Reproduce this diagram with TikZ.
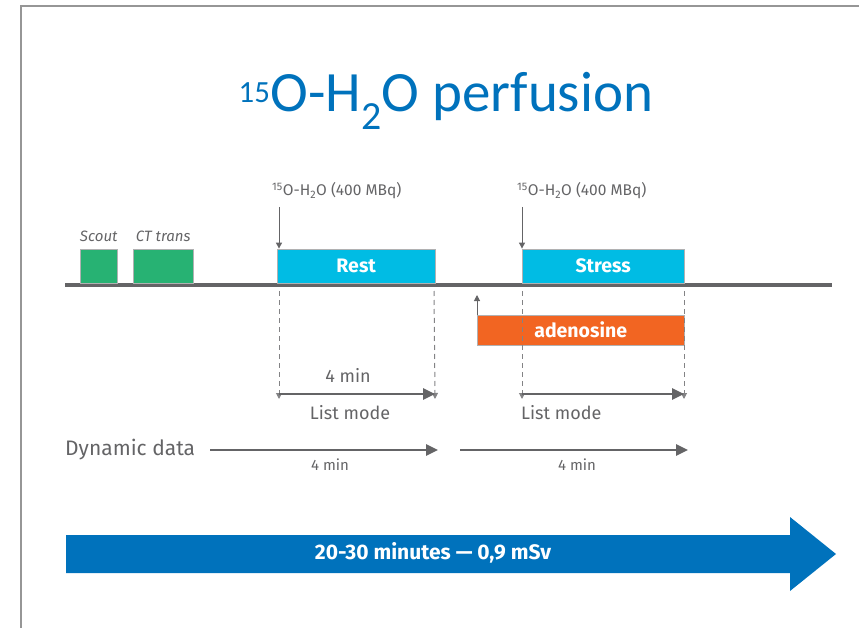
\documentclass[tikz,border=0pt]{standalone}
\usepackage{fontspec}
\setmainfont{Fira Sans}
\newfontfamily\titlefont{Carlito}
\usepackage{tikz}
\usetikzlibrary{positioning,arrows.meta}
\definecolor{geblue}{RGB}{0,114,188}
\definecolor{scancyan}{RGB}{0,188,228}
\definecolor{scangreen}{RGB}{39,178,115}
\definecolor{stressorange}{RGB}{242,101,34}
\definecolor{linegray}{RGB}{100,100,102}
\definecolor{framegray}{RGB}{150,150,150}

\begin{document}
\begin{tikzpicture}[x=1pt, y=-1pt,
        scan/.style    = {draw=linegray!50, fill=scangreen, anchor=south west, minimum height=34pt, inner sep=0pt},
        phase/.style   = {scan, fill=scancyan, text=white, font=\fontsize{19.5}{22}\selectfont\bfseries},
        drug/.style    = {phase, fill=stressorange, minimum height=30pt, anchor=north west},
        scanlbl/.style = {text=linegray, font=\fontsize{15}{18}\selectfont\itshape, inner sep=0pt},
        inj/.style     = {text=linegray, font=\fontsize{15.5}{18}\selectfont, inner sep=0pt, anchor=base west},
        txt/.style     = {text=linegray, font=\fontsize{18}{21}\selectfont, inner sep=0pt},
        small/.style   = {text=linegray, font=\fontsize{15}{17}\selectfont, inner sep=0pt},
        thin/.style    = {-{Triangle[length=6pt,width=6pt]}, linegray, line width=1pt},
        guide/.style   = {thin, dash pattern=on 5pt off 4pt, linegray!80},
        span/.style    = {-{Triangle[length=12pt,width=11pt]}, linegray, line width=2.6pt},
        node distance = 6pt
    ]
        \useasboundingbox (0,0) rectangle (859,628);
        % frame and title
        \draw[framegray, line width=2pt] (20.5,628) -- (20.5,6.5) -- (859,6.5);
        \node[text=geblue, font=\titlefont\fontsize{57}{63}\selectfont, anchor=base] (title) at (446,112)
            {{\fontsize{44}{48}\selectfont\textsuperscript{15}}O-H\textsubscript{2}O perfusion};

        % timeline
        \coordinate (t0) at (65,285);
        \coordinate (t1) at (832,285);
        \draw[linegray, line width=4pt] (t0) -- (t1);

        \node[scan, minimum width=37pt] (scout) at (80,283) {};
        \node[scan, minimum width=60pt] (ct)    at (133,283) {};
        \node[scanlbl, above=7pt of scout] {Scout};
        \node[scanlbl, above=7pt of ct]    {CT trans};

        \node[phase, minimum width=158pt] (rest)   at (277,283) {Rest};
        \node[phase, minimum width=162pt] (stress) at (522,283) {Stress};
        \node[drug, minimum width=207pt]  (aden)   at (477,315) {adenosine};

        % injections
        \node[inj] (injr) at (272,196) {\textsuperscript{15}O-H\textsubscript{2}O (400 MBq)};
        \node[inj] (injs) at (517,196) {\textsuperscript{15}O-H\textsubscript{2}O (400 MBq)};
        \draw[thin] (279,207) -- ([xshift=2pt]rest.north west);
        \draw[thin] (522,207) -- (stress.north west);
        \draw[thin] (aden.north west) -- ++(0,-20);

        % list mode
        \coordinate (r0) at (279,394);
        \coordinate (r1) at (435,394);
        \coordinate (s0) at (522,394);
        \coordinate (s1) at (684,394);
        \draw[guide] (279,291) -- ([yshift=-5pt]r0);
        \draw[guide] (434,291) -- ([yshift=-5pt]r1);
        \draw[guide] (522,291) -- ([yshift=-5pt]s0);
        \draw[guide] (684,291) -- ([yshift=-5pt]s1);
        \draw[span] (r0) -- (r1);
        \draw[span] (s0) -- (s1);
        \node[txt, anchor=base] at (348,382) {4 min};
        \node[txt, anchor=base] at (350,419) {List mode};
        \node[txt, anchor=base west] at (521,419) {List mode};

        % dynamic data
        \node[txt, font=\fontsize{21}{25}\selectfont, anchor=base west] (dyn) at (65,455) {Dynamic data};
        \coordinate (d0) at (210,450);
        \coordinate (d1) at (438,450);
        \coordinate (d2) at (460,450);
        \coordinate (d3) at (688,450);
        \draw[span] (d0) -- (d1);
        \draw[span] (d2) -- (d3);
        \node[small, anchor=base] at (330,470) {4 min};
        \node[small, anchor=base] at (577,470) {4 min};

        % total duration
        \fill[geblue] (66,535) -- (790,535) -- (790,517) -- (836,554) -- (790,591) -- (790,573) -- (66,573) -- cycle;
        \node[text=white, font=\fontsize{21}{24}\selectfont\bfseries] (total) at (433,553) {20-30 minutes — 0,9 mSv};
    \end{tikzpicture}
\end{document}
